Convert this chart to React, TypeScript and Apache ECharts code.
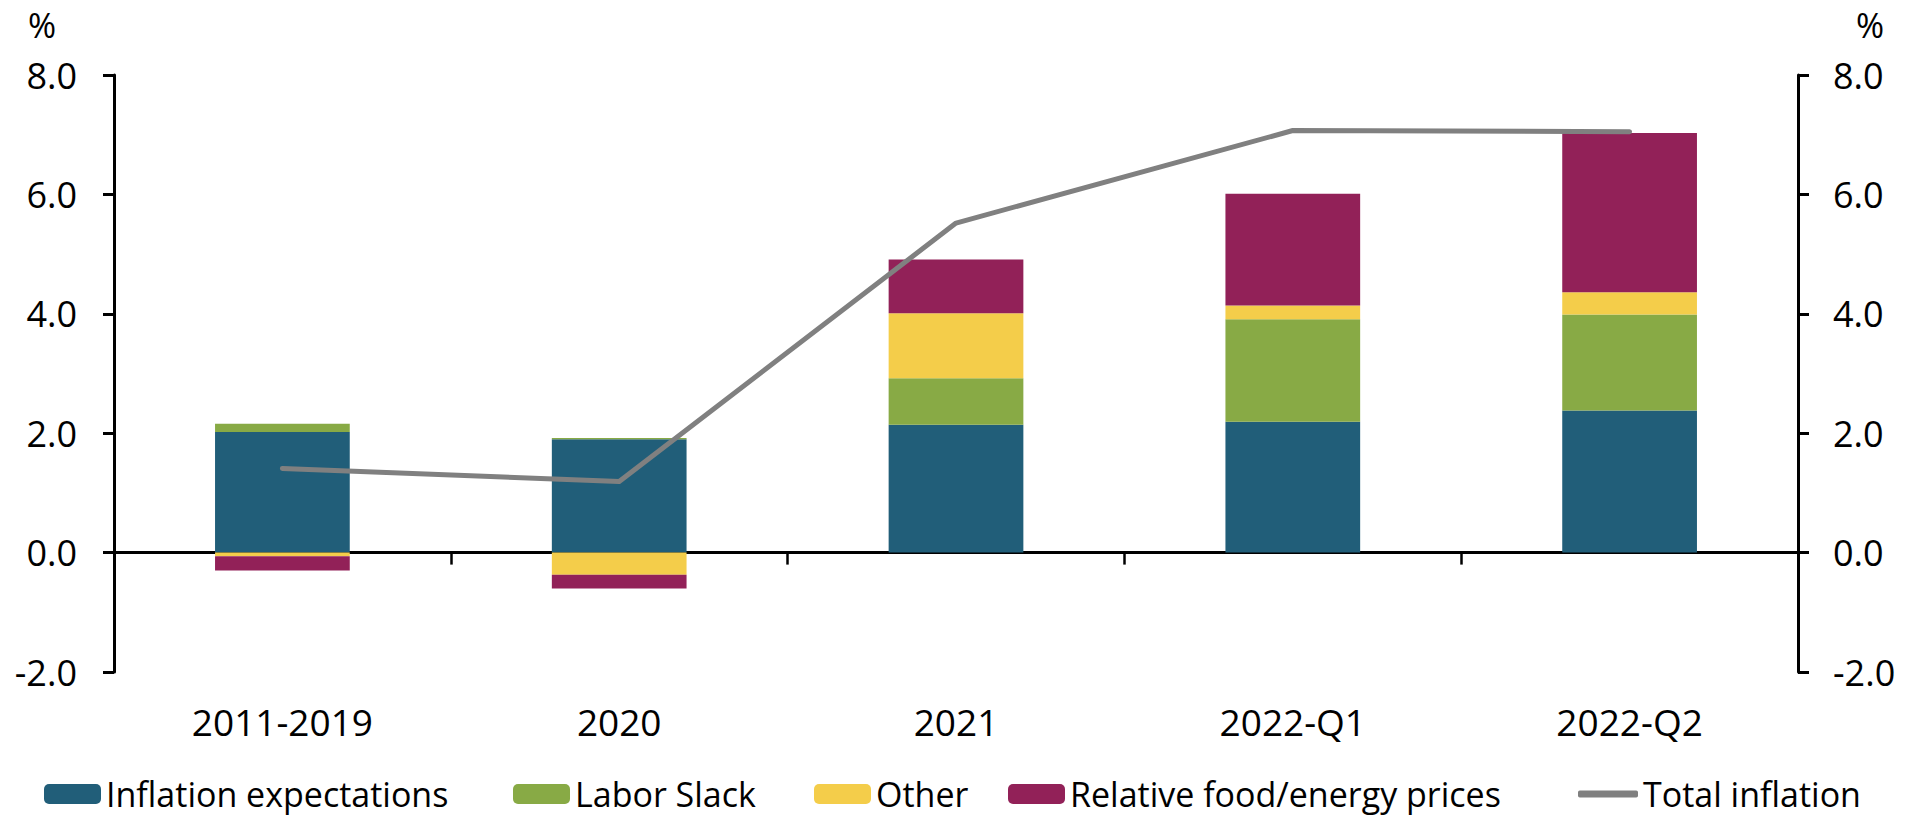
import React, { useEffect, useRef } from "react";
import * as echarts from "echarts";

const categories = ["2011-2019", "2020", "2021", "2022-Q1", "2022-Q2"];
const inflationExpectations = [2.02, 1.9, 2.14, 2.19, 2.38];
const laborSlack = [0.14, 0.02, 0.78, 1.72, 1.61];
const other = [-0.06, -0.37, 1.09, 0.23, 0.37];
const relativeFoodEnergy = [-0.24, -0.23, 0.9, 1.87, 2.67];
const totalInflation = [1.41, 1.19, 5.52, 7.07, 7.05];
const yTicks = { min: -2, max: 8, interval: 2 };

const FONT = "Open Sans";
const COLORS = {
  ie: "#215E79",
  ls: "#88AA45",
  other: "#F4CD4A",
  rfe: "#922158",
  total: "#808080",
};

export default function App() {
  const ref = useRef<HTMLDivElement>(null);
  useEffect(() => {
    document.body.style.margin = "0";
    const chart = echarts.init(ref.current!, null, { renderer: "svg" });
    const yAxisBase = (pos: "left" | "right", margin: number) => ({
      type: "value",
      position: pos,
      min: yTicks.min,
      max: yTicks.max,
      interval: yTicks.interval,
      axisLine: { show: true, lineStyle: { color: "#000", width: 3 } },
      axisTick: { show: true, length: 11, lineStyle: { color: "#000", width: 3 } },
      axisLabel: {
        formatter: (v: number) => v.toFixed(1),
        margin,
        fontSize: 36,
        color: "#000",
        fontFamily: FONT,
      },
      splitLine: { show: false },
    });
    const legendBase = (name: string, left: number, extra: any = {}) => ({
      show: true,
      left,
      top: 777,
      padding: 0,
      itemWidth: 57,
      itemHeight: 20,
      selectedMode: false,
      textStyle: { fontSize: 34, color: "#000", fontFamily: FONT, lineHeight: 34 },
      data: [name],
      ...extra,
    });
    chart.setOption({
      animation: false,
      backgroundColor: "#fff",
      grid: { left: 114, right: 123, top: 75, bottom: 146, containLabel: false },
      xAxis: [
        {
          type: "category",
          data: categories,
          position: "bottom",
          axisLine: { show: true, onZero: true, lineStyle: { color: "#000", width: 3 } },
          axisTick: { show: true, length: 12, interval: 0, lineStyle: { color: "#000", width: 2.5 } },
          axisLabel: { show: false },
          splitLine: { show: false },
        },
        {
          type: "category",
          data: categories,
          position: "bottom",
          axisLine: { show: false, onZero: false },
          axisTick: { show: false },
          axisLabel: { show: true, margin: 31, fontSize: 37, color: "#000", fontFamily: FONT, interval: 0 },
          splitLine: { show: false },
        },
      ],
      yAxis: [yAxisBase("left", 37), yAxisBase("right", 35)],
      legend: [
        legendBase("Inflation expectations", 44),
        legendBase("Labor Slack", 513),
        legendBase("Other", 814),
        legendBase("Relative food/energy prices", 1008),
        legendBase("Total inflation", 1578, {
          itemWidth: 60,
          itemHeight: 7,
          data: [{ name: "Total inflation", icon: "roundRect" }],
        }),
      ],
      graphic: [
        {
          type: "text",
          x: 42,
          y: 25,
          style: {
            text: "%",
            fontSize: 34,
            fill: "#000",
            fontFamily: FONT,
            textAlign: "center",
            textVerticalAlign: "middle",
          },
        },
        {
          type: "text",
          x: 1870,
          y: 25,
          style: {
            text: "%",
            fontSize: 34,
            fill: "#000",
            fontFamily: FONT,
            textAlign: "center",
            textVerticalAlign: "middle",
          },
        },
      ],
      series: [
        {
          name: "Inflation expectations",
          type: "bar",
          stack: "s",
          barWidth: "40%",
          data: inflationExpectations,
          itemStyle: { color: COLORS.ie },
        },
        {
          name: "Labor Slack",
          type: "bar",
          stack: "s",
          barWidth: "40%",
          data: laborSlack,
          itemStyle: { color: COLORS.ls },
        },
        {
          name: "Other",
          type: "bar",
          stack: "s",
          barWidth: "40%",
          data: other,
          itemStyle: { color: COLORS.other },
        },
        {
          name: "Relative food/energy prices",
          type: "bar",
          stack: "s",
          barWidth: "40%",
          data: relativeFoodEnergy,
          itemStyle: { color: COLORS.rfe },
        },
        {
          name: "Total inflation",
          type: "line",
          data: totalInflation,
          symbol: "none",
          z: 5,
          itemStyle: { color: COLORS.total },
          lineStyle: { color: COLORS.total, width: 5, cap: "round", join: "round" },
        },
      ],
    });
    return () => chart.dispose();
  }, []);
  return (
    <div
      ref={ref}
      style={{ position: "absolute", left: 0, top: 0, width: 1921, height: 818 }}
    />
  );
}
